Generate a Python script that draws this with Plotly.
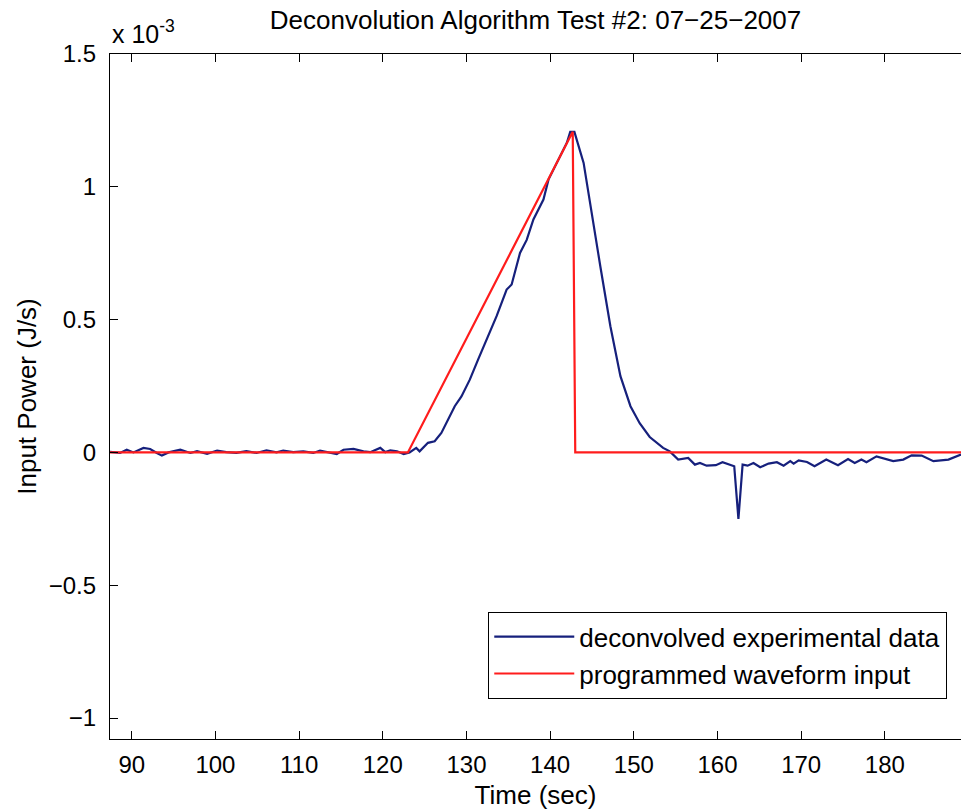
import plotly.graph_objects as go

# Deconvolved experimental data (time in s, power in units of 1e-3 J/s)
blue_time = [87.4, 88.6, 89.4, 90.2, 91.4, 92.2, 93.0, 93.6, 94.4, 95.8, 97.0, 97.8,
             99.0, 100.2, 101.3, 102.5, 103.7, 104.9, 106.1, 107.3, 108.1, 109.3, 110.5,
             111.7, 112.5, 113.7, 114.5, 115.3, 116.5, 117.7, 118.5, 119.7, 120.3, 120.9,
             121.7, 122.5,
             123.2, 124.0, 124.4, 125.4, 126.2, 127.0, 127.8, 128.6, 129.4, 130.4, 131.4,
             132.4, 133.6, 134.8, 135.4, 136.4, 137.2, 138.0, 139.2, 139.8, 140.8, 142.0,
             142.4, 142.9, 144.0, 145.0, 146.0, 147.2, 148.4, 149.6, 150.7, 151.9, 153.5,
             154.3, 155.3, 156.5, 157.3, 157.9, 158.7, 159.8, 160.6, 162.0, 162.5, 163.0,
             163.6, 164.3, 165.1, 166.1, 167.1, 167.9, 168.7, 169.1, 169.7, 170.7, 171.6,
             173.0, 174.4, 175.6, 176.4, 177.2, 177.8, 179.0, 180.0, 181.0, 182.2, 183.2,
             184.4, 185.8, 187.6, 189.1]
blue_power = [0.002, -0.002, 0.010, 0.000, 0.017, 0.013, -0.002, -0.012, 0.000, 0.010,
              -0.002, 0.005, -0.005, 0.007, 0.001, -0.002, 0.005, -0.002, 0.008, 0.000,
              0.007, 0.001, 0.004, -0.002, 0.007, -0.002, -0.006, 0.010, 0.013, 0.004,
              0.001, 0.017, 0.001, 0.008, 0.004, -0.006,
              0.000, 0.017, 0.004, 0.036, 0.042, 0.073, 0.124, 0.174, 0.211, 0.274, 0.350,
              0.425, 0.513, 0.613, 0.632, 0.751, 0.800, 0.877, 0.952, 1.027, 1.090, 1.166,
              1.207, 1.207, 1.090, 0.889, 0.700, 0.475, 0.287, 0.174, 0.110, 0.058, 0.017,
              0.004, -0.027, -0.021, -0.046, -0.040, -0.050, -0.048, -0.037, -0.052, -0.250,
              -0.046, -0.050, -0.040, -0.056, -0.042, -0.037, -0.050, -0.033, -0.042, -0.030,
              -0.036, -0.052, -0.027, -0.048, -0.025, -0.040, -0.027, -0.037, -0.015, -0.025,
              -0.033, -0.027, -0.011, -0.012, -0.033, -0.027, -0.008]

# Programmed waveform input
red_time = [87.4, 123.0, 142.7, 143.0, 189.1]
red_power = [0.0, 0.0, 1.207, 0.0, 0.0]

x_ticks = [90, 100, 110, 120, 130, 140, 150, 160, 170, 180]
y_ticks = [-1, -0.5, 0, 0.5, 1, 1.5]
y_tick_text = ["\u22121", "\u22120.5", "0", "0.5", "1", "1.5"]

assert len(blue_time) == len(blue_power)

FONT = "Liberation Sans, Arial, Helvetica, sans-serif"

fig = go.Figure()
fig.add_trace(go.Scatter(x=blue_time, y=blue_power, mode="lines",
                         name="deconvolved experimental data",
                         line=dict(color="#16207c", width=2.2)))
fig.add_trace(go.Scatter(x=red_time, y=red_power, mode="lines",
                         name="programmed waveform input",
                         line=dict(color="#ff1c1c", width=2.2)))

axis_common = dict(showline=True, linecolor="black", linewidth=1.3,
                   ticks="inside", ticklen=8, tickcolor="black", tickwidth=1.2,
                   showgrid=False, zeroline=False,
                   tickfont=dict(family=FONT, size=24, color="black"))

fig.update_xaxes(range=[87.4, 189.1], tickvals=x_ticks, mirror="ticks",
                 title=dict(text="Time (sec)", font=dict(family=FONT, size=26, color="black"),
                            standoff=8),
                 ticklabelstandoff=4, **axis_common)
fig.update_yaxes(range=[-1.079, 1.5], tickvals=y_ticks, ticktext=y_tick_text, mirror=False,
                 title=dict(text="Input Power (J/s)", font=dict(family=FONT, size=26, color="black"),
                            standoff=4),
                 ticklabelstandoff=8, **axis_common)

fig.update_layout(
    width=961, height=812,
    margin=dict(l=110, r=0, t=54, b=73, pad=0),
    plot_bgcolor="white", paper_bgcolor="white",
    title=dict(text="Deconvolution Algorithm Test #2: 07\u221225\u22122007",
               font=dict(family=FONT, size=26, color="black"),
               x=0.5, xref="paper", xanchor="center", y=1 - 20 / 812, yanchor="middle"),
    legend=dict(x=0.9835, y=0.1854, xanchor="right", yanchor="top",
                bordercolor="black", borderwidth=1.3, bgcolor="white",
                font=dict(family=FONT, size=26, color="black"),
                itemwidth=80, tracegroupgap=0),
    showlegend=True,
)
fig.add_annotation(text="x 10<sup>-3</sup>", xref="paper", yref="paper", x=0, y=1,
                   xanchor="left", yanchor="bottom", showarrow=False, yshift=4,
                   font=dict(family=FONT, size=25, color="black"))

fig.write_html("out.html")
